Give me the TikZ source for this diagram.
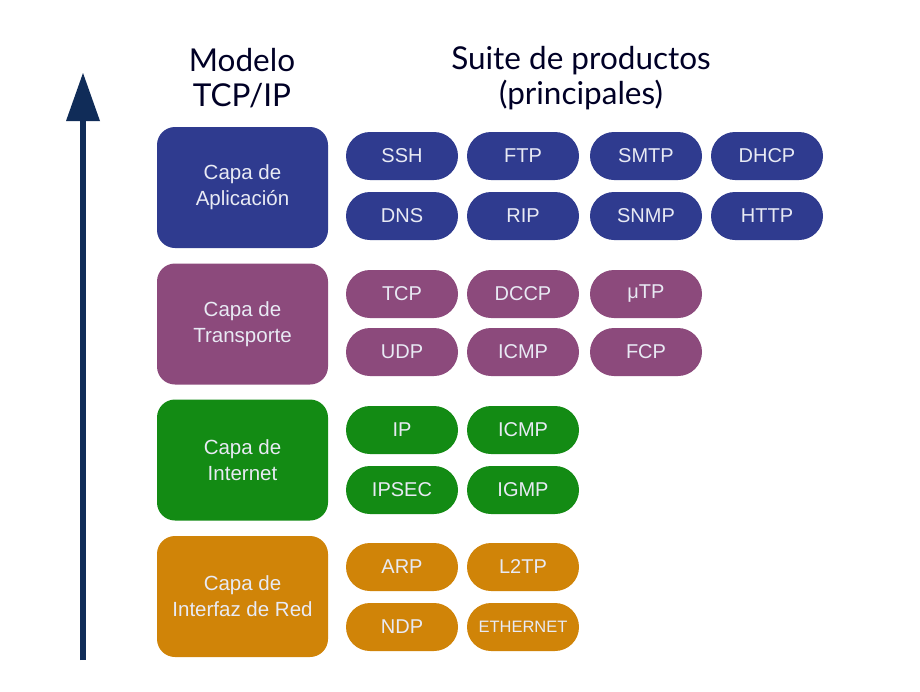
\documentclass[tikz,border=0pt]{standalone}
\usepackage{fontspec}
\usetikzlibrary{shapes.misc}
\setmainfont{Liberation Sans}
\newfontfamily\titlefont{Lato}
\definecolor{cblue}{HTML}{2F3B8F}
\definecolor{cpurple}{HTML}{8C4A7C}
\definecolor{cgreen}{HTML}{138B14}
\definecolor{corange}{HTML}{D08408}
\definecolor{carrow}{HTML}{102C58}
\definecolor{ctxt}{HTML}{E8EAF4}
\begin{document}
\begin{tikzpicture}[x=1pt,y=-1pt,
  layerbox/.style={rounded corners=18pt, minimum width=171pt, minimum height=121pt, inner sep=0pt, text=ctxt, font=\fontsize{20.5}{26}\selectfont, align=center},
  pill/.style={rounded rectangle, minimum width=112pt, minimum height=48pt, inner sep=0pt, text=ctxt, font=\fontsize{20}{22}\selectfont},
  titletext/.style={font=\titlefont\fontsize{31.5}{35}\selectfont, text=black!85!blue, align=center}]
\useasboundingbox (0,0) rectangle (920,691);
\fill[white] (0,0) rectangle (920,691);
% arrow
\coordinate (abot) at (83,660);
\coordinate (atop) at (83,120);
\draw[carrow, line width=6pt] (abot) -- (atop);
\fill[carrow] (66,121) -- (83,73) coordinate (tip) -- (100,121) -- cycle;
% titles
\node[titletext] (t1) at (242,78) {Modelo\\TCP/IP};
\node[titletext] (t2) at (581,78) {Suite de productos\\(principales)};
% layers
\node[layerbox, fill=cblue] (app) at (242.5,187.5) {Capa de\\Aplicación};
\node[layerbox, fill=cpurple] (tra) at (242.5,324) {Capa de\\Transporte};
\node[layerbox, fill=cgreen] (int) at (242.5,460) {Capa de\\Internet};
\node[layerbox, fill=corange] (net) at (242.5,596.5) {Capa de\\Interfaz de Red};
% pills
\foreach \t/\x/\y/\c [count=\i] in {SSH/402/156/cblue, FTP/523/156/cblue, SMTP/646/156/cblue, DHCP/767/156/cblue,
  DNS/402/216/cblue, RIP/523/216/cblue, SNMP/646/216/cblue, HTTP/767/216/cblue,
  TCP/402/294/cpurple, DCCP/523/294/cpurple, μTP/646/294/cpurple,
  UDP/402/352/cpurple, ICMP/523/352/cpurple, FCP/646/352/cpurple,
  IP/402/430/cgreen, ICMP/523/430/cgreen, IPSEC/402/490/cgreen, IGMP/523/490/cgreen,
  ARP/402/567/corange, L2TP/523/567/corange, NDP/402/627/corange}
  \node[pill, fill=\c] (p\i) at (\x,\y) {\t};
\node[pill, fill=corange, font=\fontsize{16.5}{18}\selectfont] (eth) at (523,627) {ETHERNET};
\end{tikzpicture}
\end{document}
